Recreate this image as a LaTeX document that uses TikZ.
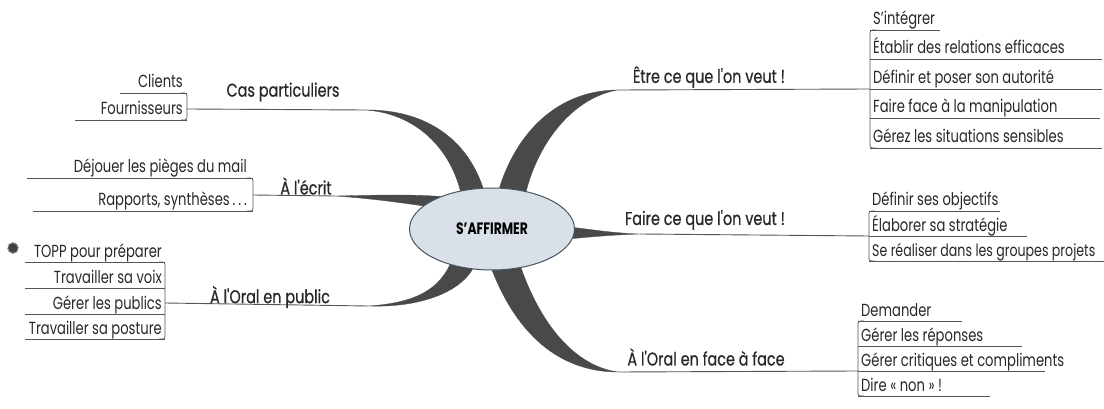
\documentclass[tikz,border=0pt]{standalone}
\usepackage{fontspec}
\setmainfont{Poppins}[FakeStretch=0.75]
\newfontfamily\lblfont{Poppins}[FakeStretch=0.78,FakeBold=0.6]
\usetikzlibrary{shapes.geometric}
\definecolor{inkc}{RGB}{40,40,40}
\definecolor{linec}{RGB}{85,85,85}
\definecolor{branchc}{RGB}{72,74,74}
\definecolor{ellfill}{RGB}{218,224,232}
\definecolor{elldraw}{RGB}{70,85,95}
\begin{document}
\begin{tikzpicture}[x=1pt,y=-1pt,
  item/.style={inner sep=0pt, text=inkc, font=\fontsize{17.5}{17.5}\selectfont},
  mainlbl/.style={inner sep=0pt, text=inkc, font=\lblfont\fontsize{18.5}{18.5}\selectfont},
  uline/.style={draw=linec, line width=0.7pt},
  brk/.style={draw=linec, line width=0.7pt, rounded corners=2.5pt},
  branchline/.style={draw=linec, line width=0.9pt},
  taper/.style={fill=branchc, draw=branchc, line width=0.3pt}
]
\useasboundingbox (0,0) rectangle (1104,409);
\fill[white] (0,0) rectangle (1104,409);

% ---------- tapered branches ----------
\fill[taper] (365,110) .. controls (420,109) and (470,135) .. (486,198) -- (462,198) .. controls (452,148) and (415,113) .. (365,110) -- cycle;
\fill[taper] (335,196) .. controls (380,195) and (415,194) .. (446,197) -- (446,209) .. controls (415,205) and (380,199) .. (335,196) -- cycle;
\fill[taper] (368,306) .. controls (420,308) and (465,292) .. (476,262) -- (452,260) .. controls (440,290) and (415,303) .. (368,306) -- cycle;
\fill[taper] (618,90) .. controls (560,90) and (515,130) .. (497,196) -- (525,196) .. controls (538,140) and (575,97) .. (618,90) -- cycle;
\fill[taper] (640,234) .. controls (610,233) and (590,229) .. (568,227) -- (568,239) .. controls (590,237) and (610,235) .. (640,234) -- cycle;
\fill[taper] (618,372) .. controls (560,372) and (515,335) .. (489,262) -- (519,262) .. controls (540,325) and (575,366) .. (618,372) -- cycle;

% ---------- central topic ----------
\node[ellipse, draw=elldraw, fill=ellfill, line width=1pt, minimum width=165pt, minimum height=82pt, inner sep=0pt,
      text=black, font=\bfseries\fontsize{16.5}{16.5}\selectfont] (root) at (492,229) {S'AFFIRMER};

% ---------- branch end coordinates ----------
\coordinate (a1) at (365,110);
\coordinate (a2) at (335,196);
\coordinate (a3) at (368,306);
\coordinate (a4) at (618,90);
\coordinate (a5) at (640,234);
\coordinate (a6) at (618,372);

% brackets mid-points
\coordinate (b1) at (187,109);
\coordinate (b2) at (253,195);
\coordinate (b3) at (165,303);
\coordinate (b4) at (870,89);
\coordinate (b5) at (869,236);
\coordinate (b6) at (858,371);

\draw[branchline] (b1) -- (a1);
\draw[branchline] (b2) -- (a2);
\draw[branchline] (b3) -- (a3);
\draw[branchline] (a4) -- (b4);
\draw[branchline] (a5) -- (b5);
\draw[branchline] (a6) -- (b6);

% ---------- main labels ----------
\node[mainlbl] (lcas) at (283,92) {Cas particuliers};
\node[mainlbl] (lecrit) at (306,186) {À l'écrit};
\node[mainlbl] (lpublic) at (270,297) {À l'Oral en public};
\node[mainlbl] (letre) at (709,77) {Être ce que l'on veut !};
\node[mainlbl] (lfaire) at (705,220) {Faire ce que l'on veut !};
\node[mainlbl] (lface) at (706,357) {À l'Oral en face à face};

% ---------- left top group ----------
\draw[uline] (120,93) -- (187,93);
\draw[uline] (75,120) -- (187,120);
\draw[brk] (181,93) -- (187,93) -- (187,120) -- (181,120);
\node[item, anchor=base east] (clients) at (183,88) {Clients};
\node[item, anchor=base east] (fourn) at (183,115) {Fournisseurs};

% ---------- left middle group ----------
\draw[uline] (27,178) -- (253,178);
\draw[uline] (33,211) -- (253,211);
\draw[brk] (247,178) -- (253,178) -- (253,211) -- (247,211);
\node[item, anchor=base east] (dejouer) at (247,173) {Déjouer les pièges du mail};
\node[item, anchor=base east] (rapports) at (247,205) {Rapports, synthèses\,.\,.\,.};

% ---------- left bottom group ----------
\draw[uline] (25,262) -- (165,262);
\draw[uline] (25,288) -- (165,288);
\draw[uline] (25,314) -- (165,314);
\draw[uline] (25,339) -- (165,339);
\draw[brk] (159,262) -- (165,262) -- (165,339) -- (159,339);
\node[item, anchor=base east] (topp) at (162,257) {TOPP pour préparer};
\node[item, anchor=base east] (voix) at (162,283) {Travailler sa voix};
\node[item, anchor=base east] (publics) at (162,309) {Gérer les publics};
\node[item, anchor=base east] (posture) at (162,334) {Travailler sa posture};
\node[circle, fill=black!75, draw=black!60, line width=1.6pt, dash pattern=on 1.2pt off 1pt, minimum size=10pt, inner sep=0pt] (bullet) at (13,248) {};

% ---------- right top group ----------
\draw[uline] (870,30) -- (940,30);
\draw[uline] (870,59) -- (1102,59);
\draw[uline] (870,89) -- (1102,89);
\draw[uline] (870,118) -- (1100,118);
\draw[uline] (870,148) -- (1102,148);
\draw[brk] (876,30) -- (870,30) -- (870,148) -- (876,148);
\node[item, anchor=base west] (integrer) at (873,25) {S'intégrer};
\node[item, anchor=base west] (etablir) at (873,54) {Établir des relations efficaces};
\node[item, anchor=base west] (definir) at (873,84) {Définir et poser son autorité};
\node[item, anchor=base west] (manip) at (873,113) {Faire face à la manipulation};
\node[item, anchor=base west] (sensibles) at (873,143) {Gérez les situations sensibles};

% ---------- right middle group ----------
\draw[uline] (869,211) -- (1000,211);
\draw[uline] (869,236) -- (1027,236);
\draw[uline] (869,261) -- (1104,261);
\draw[brk] (875,211) -- (869,211) -- (869,261) -- (875,261);
\node[item, anchor=base west] (objectifs) at (872,206) {Définir ses objectifs};
\node[item, anchor=base west] (strategie) at (872,231) {Élaborer sa stratégie};
\node[item, anchor=base west, font=\fontsize{16.8}{16.8}\selectfont] (projets) at (872,256) {Se réaliser dans les groupes projets};

% ---------- right bottom group ----------
\draw[uline] (858,321) -- (962,321);
\draw[uline] (858,346) -- (1022,346);
\draw[uline] (858,371) -- (1045,371);
\draw[uline] (858,396) -- (990,396);
\draw[brk] (864,321) -- (858,321) -- (858,396) -- (864,396);
\node[item, anchor=base west] (demander) at (861,316) {Demander};
\node[item, anchor=base west] (reponses) at (861,341) {Gérer les réponses};
\node[item, anchor=base west] (critiques) at (861,366) {Gérer critiques et compliments};
\node[item, anchor=base west] (dire) at (861,391) {Dire « non » !};
\end{tikzpicture}
\end{document}
